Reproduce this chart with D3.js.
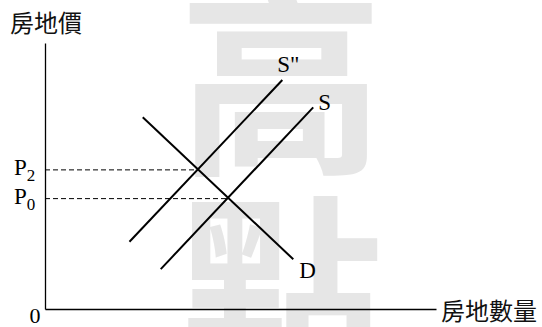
<!DOCTYPE html>
<html>
<head>
<meta charset="utf-8">
<script src="https://cdn.jsdelivr.net/npm/d3@7"></script>
<style>
  html, body { margin: 0; padding: 0; background: #fff; }
  svg { display: block; }
  .serif { font-family: "Liberation Serif", "Times New Roman", serif; fill: #000; }
  .cjk { font-family: "Noto Sans CJK TC", "Noto Sans CJK SC", sans-serif; fill: #111; }
</style>
</head>
<body>
<svg id="chart"></svg>
<script>
// curve end points (quantity, price), 0-100 units
const curveNames = ["D", "S\"", "S"];
const curveQ = [[25.0, 63.5], [21.6, 60.7], [29.6, 68.6]];
const curveP = [[72.1, 18.7], [25.3, 86.1], [15.0, 75.8]];

// equilibrium points
const eqSubs = ["2", "0"];
const eqQ = [39.0, 46.7];
const eqP = [52.3, 41.5];

const yTitle = "房地價";
const xTitle = "房地數量";
const watermark = ["高", "點"];

const width = 542, height = 327;
const margin = { top: 43, right: 106, bottom: 18, left: 45 };

const svg = d3.select("#chart")
    .attr("width", width)
    .attr("height", height);

const x = d3.scaleLinear().domain([0, 100]).range([margin.left, width - margin.right]);
const y = d3.scaleLinear().domain([0, 100]).range([height - margin.bottom, margin.top]);

// background watermark
svg.append("g")
    .selectAll("text")
    .data(watermark)
    .join("text")
    .attr("x", 281)
    .attr("y", (d, i) => i == 0 ? 68 : 280)
    .attr("text-anchor", "middle")
    .attr("dominant-baseline", "central")
    .attr("font-family", "'Noto Sans CJK TC', sans-serif")
    .attr("font-weight", "bold")
    .attr("font-size", 205)
    .attr("fill", "#e6e6e6")
    .text(d => d);

// axes (no ticks, just the lines)
svg.append("g")
    .attr("transform", `translate(0, ${y(0)})`)
    .call(d3.axisBottom(x).tickValues([]).tickSizeOuter(0))
    .select(".domain").attr("stroke-width", 1.3);

svg.append("g")
    .attr("transform", `translate(${x(0)}, 0)`)
    .call(d3.axisLeft(y).tickValues([]).tickSizeOuter(0))
    .select(".domain").attr("stroke-width", 1.3);

// dashed guides to price axis
const eq = eqQ.map((q, i) => ({ q: q, p: eqP[i], sub: eqSubs[i] }));

svg.append("g")
    .selectAll("line")
    .data(eq)
    .join("line")
    .attr("x1", x(0))
    .attr("x2", d => x(d.q))
    .attr("y1", d => y(d.p))
    .attr("y2", d => y(d.p))
    .attr("stroke", "#000")
    .attr("stroke-width", 1)
    .attr("stroke-dasharray", "5,3");

const pLabels = svg.append("g")
    .selectAll("text")
    .data(eq)
    .join("text")
    .attr("class", "serif")
    .attr("x", 14)
    .attr("y", d => y(d.p) + 5)
    .attr("font-size", 23);
pLabels.append("tspan").text("P");
pLabels.append("tspan").attr("font-size", 17).attr("dy", 6).text(d => d.sub);

// demand and supply curves
const curves = curveNames.map((name, i) => ({
    name: name,
    pts: curveQ[i].map((q, j) => [q, curveP[i][j]])
}));

const line = d3.line().x(d => x(d[0])).y(d => y(d[1]));

svg.append("g")
    .selectAll("path")
    .data(curves)
    .join("path")
    .attr("d", d => line(d.pts))
    .attr("fill", "none")
    .attr("stroke", "#000")
    .attr("stroke-width", 2);

// curve labels, placed off the outer end of each line
const labelOffset = { "D": [6, 19], "S\"": [-5, -8], "S": [5, 3] };
svg.append("g")
    .selectAll("text")
    .data(curves)
    .join("text")
    .attr("class", "serif")
    .attr("font-size", 23)
    .attr("x", d => x(d.pts[1][0]) + labelOffset[d.name][0])
    .attr("y", d => y(d.pts[1][1]) + labelOffset[d.name][1])
    .text(d => d.name);

// origin and axis titles
svg.append("text")
    .attr("class", "serif")
    .attr("x", 35)
    .attr("y", 323)
    .attr("text-anchor", "middle")
    .attr("font-size", 22)
    .text("0");

svg.append("text")
    .attr("class", "cjk")
    .attr("x", 10)
    .attr("y", 21)
    .attr("dominant-baseline", "central")
    .attr("font-size", 24)
    .text(yTitle);

svg.append("text")
    .attr("class", "cjk")
    .attr("x", 441)
    .attr("y", y(0))
    .attr("dominant-baseline", "central")
    .attr("font-size", 24)
    .text(xTitle);
</script>
</body>
</html>
